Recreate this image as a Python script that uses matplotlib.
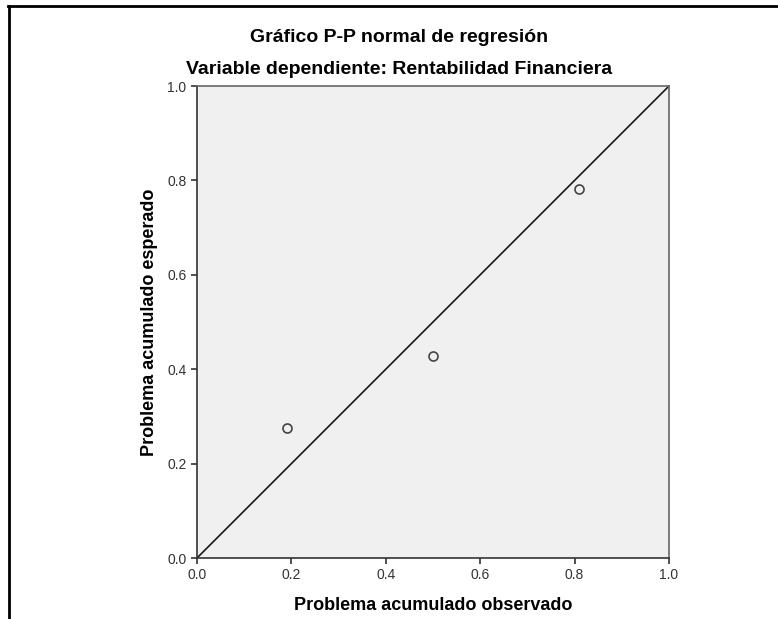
import matplotlib.pyplot as plt
from matplotlib.lines import Line2D

# P-P points
observed = [0.19, 0.50, 0.81]
expected = [0.275, 0.428, 0.782]
ticks = [0.0, 0.2, 0.4, 0.6, 0.8, 1.0]
tick_labels = ["0.0", "0.2", "0.4", "0.6", "0.8", "1.0"]

plt.rcParams["font.family"] = ["Liberation Sans", "DejaVu Sans"]

W, H = 778, 619
fig = plt.figure(figsize=(W / 100, H / 100), dpi=100)
ax = fig.add_axes([197 / W, (H - 558) / H, 472 / W, 472 / H])
ax.set_facecolor("#f0f0f0")

# reference line and points
ax.plot([0, 1], [0, 1], color="#1a1a1a", lw=1.2)
ax.plot(observed, expected, "o", mfc="none", mec="#444444", ms=6.5, mew=1.2)

ax.set_xlim(0, 1)
ax.set_ylim(0, 1)
ax.set_xticks(ticks, tick_labels)
ax.set_yticks(ticks, tick_labels)
ax.tick_params(direction="out", length=4.5, width=1.2, color="#333333",
               labelsize=10, labelcolor="#333333", pad=3)
for side in ["left", "bottom"]:
    ax.spines[side].set_color("#333333")
    ax.spines[side].set_linewidth(1.2)
for side in ["top", "right"]:
    ax.spines[side].set_color("#666666")
    ax.spines[side].set_linewidth(1.2)

ax.set_xlabel("Problema acumulado observado", fontsize=13, fontweight="bold")
ax.set_ylabel("Problema acumulado esperado", fontsize=13, fontweight="bold")
ax.xaxis.set_label_coords(0.5, (558 - 606) / 472)
ax.xaxis.label.set_va("center")
ax.yaxis.set_label_coords((149 - 197) / 472, 0.5)
ax.yaxis.label.set_va("center")

fig.text(399 / W, 1 - 38 / H, "Gráfico P-P normal de regresión",
         ha="center", va="center", fontsize=14, fontweight="bold")
fig.text(399 / W, 1 - 70 / H, "Variable dependiente: Rentabilidad Financiera",
         ha="center", va="center", fontsize=14, fontweight="bold")

# outer frame (top and left edges)
fig.add_artist(Line2D([8 / W, 1], [1 - 6 / H, 1 - 6 / H], color="black", lw=2,
                      transform=fig.transFigure))
fig.add_artist(Line2D([9 / W, 9 / W], [0, 1 - 6 / H], color="black", lw=2,
                      transform=fig.transFigure))

fig.savefig("out.png", dpi=100)
